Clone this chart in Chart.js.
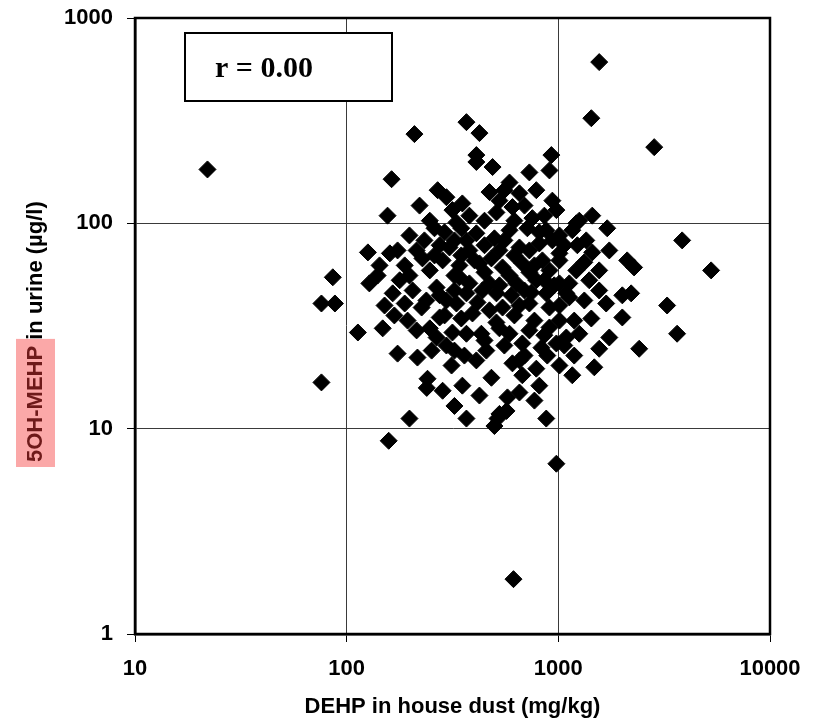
<!DOCTYPE html>
<html>
<head>
<meta charset="utf-8">
<script src="https://cdn.jsdelivr.net/npm/chart.js@4.4.0/dist/chart.umd.min.js"></script>
<style>
  html, body { margin: 0; padding: 0; background: #fff; }
</style>
</head>
<body>
<canvas id="chartDust" width="816" height="720"></canvas>
<script>
// DEHP in house dust (mg/kg) and 5OH-MEHP in urine (µg/l), one pair per subject
const dustDEHP = [
  22, 1560, 1432, 2838, 368, 209, 424, 163, 410, 410, 489, 588, 730, 908, 927,
  156, 221, 269, 296, 352, 316, 247, 260, 330, 473, 655, 787, 510, 607, 692,
  937, 979, 754, 1256, 1446, 1702, 1216, 1164,
  3846, 5272, 1446, 2115, 2280, 1216, 1012, 2208, 2006, 1683, 3266, 2006, 1432,
  1256, 3640, 1741, 1560, 2410, 1127, 1012, 1127, 1479, 1164,
  787, 676, 771, 877, 575, 569, 516, 499, 368, 979, 614, 483, 313, 284, 239,
  76, 158, 198, 607, 410, 527,
  86, 76, 88, 126, 128, 113, 148, 174, 216, 165, 160, 174, 214, 228, 178, 247,
  284, 306, 368, 402, 341, 266, 368, 241, 194, 226, 214, 247, 266, 275, 316,
  368, 360, 330, 393, 296,
  410, 588, 714, 877, 527, 655, 813, 1012, 424, 545, 676, 841, 473, 634, 787,
  1012, 1091, 877, 510, 545, 730, 908, 1091, 908, 979, 832, 676, 510, 433, 588,
  323, 348, 448, 499, 620, 730, 937, 448, 588, 730, 908, 380, 323, 415, 473,
  620, 771, 859, 692, 556, 457, 348, 296, 957, 746, 600, 341, 275, 233, 198,
  188, 205, 238, 140, 151, 188, 527, 556, 620, 859, 1012, 1355, 1400, 1560, 1327,
  887, 1012, 1189, 813, 655, 424, 352, 323, 1230, 448, 380,
  290, 348, 556, 813, 1067, 260, 380, 483, 771, 323, 527, 692, 859, 275, 438,
  655, 1012, 290, 527, 730, 1189, 448, 323, 1067, 655, 1560, 1741, 1327, 143, 198,
  168, 252
]
const urineMEHP = [
  183, 610, 325, 235, 311, 272, 275, 164, 215, 199, 188, 158, 177, 181, 215,
  109, 122, 145, 134, 125, 116, 103, 94.6, 101, 142, 140, 145, 113, 120, 122,
  129, 116, 106, 103, 109, 94.6, 100, 92.5,
  82.6, 59, 72.2, 66, 61, 59, 66, 45.6, 44.6, 40.7, 39.8, 34.8, 34.4,
  29, 29, 27.8, 24.5, 24.5, 43.6, 33.6, 51, 19.9, 18.2,
  19.6, 18.2, 13.7, 11.2, 14.2, 12.2, 11.2, 10.3, 11.2, 6.75, 1.85, 17.7, 20.3, 15.3, 15.8,
  16.8, 8.73, 11.2, 20.8, 21.5, 11.8,
  54.6, 40.7, 40.7, 72.2, 51, 29.4, 30.8, 23.2, 22.2, 45.6, 71.4, 73.8, 73.8, 67.5, 52.8, 59,
  66, 76.3, 82.6, 66, 54.6, 48.7, 45.6, 17.5, 33.6, 38.9, 30.1, 30.8, 27.8, 34.8, 29.4,
  29, 22.7, 40.7, 36.4, 42.1,
  89.4, 92.5, 94.6, 92.5, 73.8, 76.3, 79.8, 71.4, 63.8, 61, 63.8, 66, 51, 51, 52.8,
  51, 45.6, 45.6, 45.6, 38.9, 40.7, 38.9, 27.8, 31.1, 26, 24.8, 26, 32.9, 29, 29,
  82.6, 69.8, 78.2, 84.5, 69.8, 73.8, 82.6, 57.7, 55.7, 57.7, 59, 51, 47.1, 41.2, 37.7,
  35.6, 33.6, 28.5, 22.7, 25.4, 24, 34.4, 25.4, 49.9, 46, 44.6, 62.4, 78.2, 82.6, 87.3,
  62.4, 47.1, 42.1, 55.7, 39.8, 40.7, 129, 145, 103, 109, 87.3, 82.6, 52.8, 47.1, 42.1,
  22.7, 20.3, 22.7, 16.2, 15, 14.5, 16.2, 12.9, 78.2, 103, 109,
  90.4, 94.6, 82.6, 90.4, 78.2, 69.8, 73.8, 67.5, 62.4, 55.7, 49.9, 47.1, 52.8, 44.6, 47.1,
  39.8, 39.8, 35.6, 30.8, 30.1, 33.6, 26.9, 24, 25.4, 21.5, 59, 73.8, 64.6, 62.4, 55.7,
  35.6, 24
]
const xTicks = [10, 100, 1000, 10000]
const yTicks = [1, 10, 100, 1000]
const corrLabel = 'r = 0.00'
const xTitle = 'DEHP in house dust (mg/kg)'
const yTitleMark = '5OH-MEHP'
const yTitleRest = ' in urine (µg/l)'

const sans = 'Liberation Sans'

const points = []
for (var i = 0; i < dustDEHP.length; i++) {
  points.push({x: dustDEHP[i], y: urineMEHP[i]})
}

// frame, r box and the highlighted y title
const extras = {
  id: 'extras',
  afterDraw(chart) {
    const ctx = chart.ctx
    const a = chart.chartArea
    ctx.save()

    ctx.strokeStyle = '#000'
    ctx.lineWidth = 2.5
    ctx.strokeRect(a.left, a.top, a.right - a.left, a.bottom - a.top)

    // r box
    const bx = a.left + 50, by = a.top + 15, bw = 207, bh = 68
    ctx.fillStyle = '#fff'
    ctx.fillRect(bx, by, bw, bh)
    ctx.lineWidth = 2
    ctx.strokeRect(bx, by, bw, bh)
    ctx.fillStyle = '#000'
    ctx.font = 'bold 30px "Liberation Serif"'
    ctx.textAlign = 'left'
    ctx.textBaseline = 'alphabetic'
    ctx.fillText(corrLabel, bx + 30, by + 44)

    // y title, rotated
    ctx.font = 'bold 22px "' + sans + '"'
    const markW = ctx.measureText(yTitleMark).width
    const startY = a.bottom - 172
    ctx.fillStyle = '#fba8a8'
    ctx.fillRect(16, startY - markW - 7, 39, markW + 12)
    ctx.translate(42, startY)
    ctx.rotate(-Math.PI / 2)
    ctx.fillStyle = '#6e1a1a'
    ctx.fillText(yTitleMark, 0, 0)
    ctx.fillStyle = '#000'
    ctx.fillText(yTitleRest, markW, 0)
    ctx.restore()
  }
}

const tickFont = {family: sans, size: 22, weight: 'bold'}

new Chart(document.getElementById('chartDust'), {
  type: 'scatter',
  data: {
    datasets: [{
      data: points,
      pointStyle: 'rectRot',
      pointRadius: 8.5,
      borderWidth: 1,
      backgroundColor: '#000',
      borderColor: '#000'
    }]
  },
  options: {
    responsive: false,
    animation: false,
    devicePixelRatio: 1,
    layout: {padding: {top: 18, right: 46, left: 0, bottom: 0}},
    plugins: {
      legend: {display: false},
      tooltip: {enabled: false}
    },
    scales: {
      x: {
        type: 'logarithmic',
        min: 10,
        max: 10000,
        afterBuildTicks: s => { s.ticks = xTicks.map(v => ({value: v})) },
        afterFit: s => { s.height = 86; s.paddingLeft = 0; s.paddingRight = 0 },
        ticks: {
          color: '#000',
          font: tickFont,
          padding: 14,
          maxRotation: 0,
          autoSkip: false,
          callback: v => String(v)
        },
        grid: {color: '#3a3a3a', lineWidth: 1, tickLength: 8, tickColor: '#000'},
        border: {color: '#000', width: 2.5},
        title: {
          display: true,
          text: xTitle,
          color: '#000',
          font: {family: sans, size: 22, weight: 'bold'},
          padding: {top: 0, bottom: 0}
        }
      },
      y: {
        type: 'logarithmic',
        min: 1,
        max: 1000,
        afterBuildTicks: s => { s.ticks = yTicks.map(v => ({value: v})) },
        afterFit: s => { s.width = 135; s.paddingTop = 0; s.paddingBottom = 0 },
        ticks: {
          color: '#000',
          font: tickFont,
          padding: 14,
          autoSkip: false,
          callback: v => String(v)
        },
        grid: {color: '#3a3a3a', lineWidth: 1, tickLength: 8, tickColor: '#000'},
        border: {color: '#000', width: 2.5}
      }
    }
  },
  plugins: [extras]
})
</script>
</body>
</html>
